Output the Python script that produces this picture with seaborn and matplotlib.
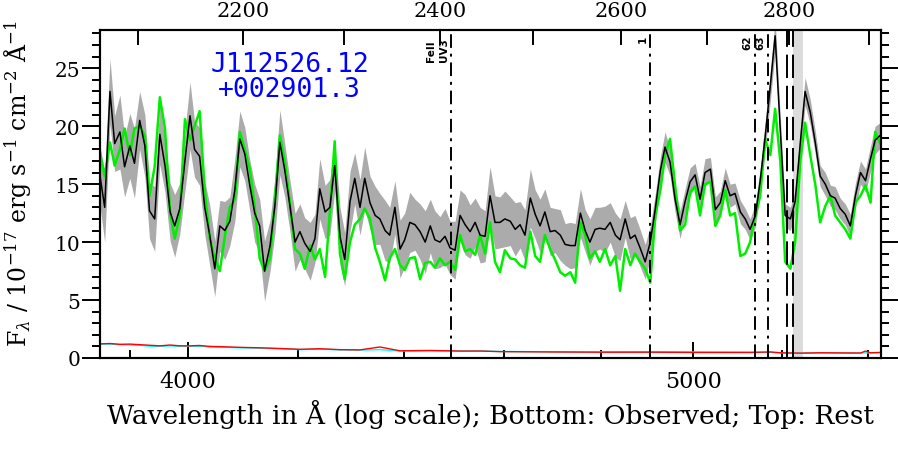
import numpy as np
import pandas as pd
import matplotlib
matplotlib.use("Agg")
import matplotlib.pyplot as plt
import seaborn as sns
from matplotlib.ticker import FixedLocator, FixedFormatter, NullFormatter, NullLocator

# observed wavelength grid (A)
wave = [3848, 3856, 3865, 3873, 3882, 3890, 3899, 3907, 3916, 3925,
        3933, 3942, 3951, 3960, 3969, 3977, 3986, 3995, 4004, 4012,
        4021, 4030, 4039, 4048, 4057, 4066, 4075, 4084, 4093, 4102,
        4111, 4120, 4129, 4138, 4148, 4157, 4166, 4175, 4184, 4194,
        4203, 4212, 4222, 4231, 4240, 4250, 4259, 4268, 4278, 4287,
        4297, 4306, 4316, 4325, 4335, 4345, 4354, 4364, 4373, 4383,
        4393, 4402, 4412, 4422, 4432, 4442, 4452, 4461, 4471, 4481,
        4491, 4501, 4511, 4521, 4531, 4541, 4551, 4561, 4571, 4581,
        4591, 4601, 4612, 4622, 4632, 4642, 4653, 4663, 4673, 4683,
        4694, 4704, 4715, 4725, 4736, 4746, 4757, 4767, 4777, 4788,
        4798, 4809, 4820, 4831, 4841, 4852, 4863, 4873, 4884, 4895,
        4906, 4917, 4928, 4938, 4949, 4960, 4971, 4982, 4993, 5004,
        5015, 5026, 5038, 5049, 5060, 5071, 5082, 5093, 5105, 5116,
        5127, 5139, 5150, 5161, 5173, 5184, 5196, 5207, 5219, 5230,
        5242, 5253, 5265, 5277, 5288, 5300, 5312, 5323, 5335, 5347,
        5359, 5371, 5383, 5395, 5407, 5418, 5430]

# main spectrum (black)
flux = [15.7, 13.0, 23.0, 18.5, 19.5, 16.5, 18.3, 16.8, 20.5, 18.3,
        12.7, 12.0, 19.3, 16.6, 12.6, 11.4, 12.9, 17.0, 20.9, 18.0,
        17.4, 13.0, 10.6, 7.7, 11.4, 11.0, 11.8, 14.5, 18.9, 17.6,
        14.9, 12.5, 11.4, 7.5, 9.7, 13.2, 18.6, 16.2, 13.3, 10.0,
        10.9, 9.9, 9.2, 10.3, 14.6, 12.6, 13.0, 16.6, 10.5, 8.5,
        13.5, 15.5, 13.0, 15.5, 13.4, 12.3, 12.0, 11.0, 10.6, 13.0,
        9.4, 10.2, 11.7, 11.5, 10.9, 10.0, 11.4, 10.2, 10.0, 10.5,
        9.5, 9.3, 12.3, 11.5, 10.9, 11.7, 10.6, 10.5, 14.0, 11.7,
        11.7, 12.0, 11.8, 11.1, 11.5, 10.6, 13.8, 12.4, 11.4, 12.6,
        10.9, 11.0, 10.6, 9.8, 9.7, 9.7, 12.5, 11.0, 10.0, 11.1,
        11.2, 11.1, 11.7, 10.6, 10.2, 12.0, 10.3, 10.6, 9.5, 8.3,
        10.0, 12.9, 16.2, 18.2, 16.9, 13.7, 11.5, 13.5, 15.2, 15.8,
        13.7, 16.0, 16.3, 12.8, 13.4, 15.3, 14.0, 14.2, 12.6, 12.0,
        11.1, 12.3, 15.3, 19.0, 23.5, 27.8, 19.5, 12.3, 12.0, 13.5,
        18.6, 23.0, 21.2, 18.5, 15.7, 15.0, 14.0, 13.8, 12.9, 12.4,
        11.4, 14.0, 16.0, 15.3, 17.2, 18.8, 19.2]

# grey band half width
flux_err = [2.6, 3.0, 2.8, 2.4, 3.2, 2.6, 2.8, 3.0, 2.5, 2.7,
            2.4, 2.8, 2.6, 2.3, 2.5, 2.7, 2.2, 2.6, 2.9, 2.4,
            2.5, 2.3, 2.6, 2.4, 2.2, 2.5, 2.1, 2.7, 2.4, 2.3,
            2.2, 2.5, 2.3, 2.6, 2.2, 2.4, 2.8, 2.3, 2.2, 2.5,
            2.4, 2.2, 2.5, 2.1, 2.6, 2.3, 2.4, 2.2, 2.5, 2.3,
            2.6, 2.2, 2.4, 2.7, 2.3, 2.5, 2.2, 2.6, 2.4, 2.3,
            2.5, 2.3, 2.6, 2.2, 2.4, 2.7, 2.3, 2.5, 2.2, 2.4,
            2.3, 2.5, 2.2, 2.6, 2.3, 2.1, 2.4, 2.2, 2.5, 2.3,
            2.2, 2.4, 2.1, 2.3, 2.0, 2.2, 2.5, 2.1, 2.3, 2.0,
            2.1, 1.9, 2.2, 1.8, 2.0, 1.9, 2.1, 1.8, 2.0, 1.9,
            1.8, 2.0, 1.7, 1.9, 1.8, 1.6, 1.8, 1.7, 1.6, 1.5,
            1.4, 1.3, 1.2, 1.3, 1.2, 1.1, 1.2, 1.1, 1.2, 1.0,
            1.1, 1.2, 1.0, 1.1, 1.0, 1.1, 1.0, 0.9, 1.0, 0.9,
            0.9, 1.0, 1.1, 1.2, 1.3, 1.4, 1.2, 1.0, 1.0, 1.0,
            1.1, 1.2, 1.1, 1.0, 0.9, 1.0, 0.9, 1.0, 0.9, 0.9,
            1.0, 1.1, 1.0, 1.0, 1.1, 1.2, 1.1]

# second spectrum (green)
flux_alt = [17.7, 15.7, 18.6, 16.6, 18.0, 19.8, 17.5, 19.8, 20.0, 19.2,
            14.0, 16.5, 22.5, 19.8, 12.5, 10.3, 12.3, 20.6, 18.8, 20.0,
            21.3, 14.5, 10.3, 8.6, 7.5, 10.5, 13.0, 13.7, 19.5, 18.0,
            16.3, 13.0, 8.6, 7.5, 8.6, 13.7, 19.2, 17.0, 13.5, 9.4,
            9.0, 7.7, 9.7, 8.5, 9.4, 7.0, 12.6, 18.7, 9.0, 6.8,
            10.0, 11.5, 12.0, 12.9, 12.0, 9.5, 8.3, 6.7, 8.6, 9.4,
            8.0, 7.6, 8.6, 8.7, 6.8, 8.2, 8.3, 7.8, 8.6, 8.0,
            8.3, 7.6, 10.6, 9.2, 9.4, 8.9, 10.6, 9.0, 11.7, 8.3,
            7.4, 9.3, 8.6, 8.5, 8.0, 7.8, 10.9, 8.8, 8.3, 10.6,
            9.4, 8.5, 7.4, 7.1, 7.4, 6.5, 11.7, 10.6, 8.6, 9.2,
            8.3, 9.4, 8.0, 8.8, 5.8, 9.4, 8.0, 9.0, 8.3, 7.7,
            6.5, 12.3, 14.5, 17.5, 18.9, 14.9, 11.0, 11.5, 14.3, 14.8,
            12.3, 15.0, 15.2, 11.4, 12.3, 14.5, 12.3, 12.5, 8.8, 9.0,
            10.0, 12.3, 14.0, 18.9, 17.5, 21.5, 16.9, 8.3, 7.7, 10.0,
            17.0, 20.3, 17.5, 14.9, 11.7, 13.1, 14.0, 12.3, 11.7, 11.1,
            10.3, 13.4, 14.0, 14.9, 13.4, 19.5, 18.5]

# error spectra near zero
noise_wave = [3848, 3865, 3882, 3899, 3916, 3933, 3951, 3969, 3986, 4004,
              4021, 4039, 4057, 4093, 4129, 4166, 4203, 4240, 4278, 4316,
              4354, 4393, 4452, 4511, 4551, 4591, 4694, 4798, 4906, 5015,
              5127, 5173, 5196, 5242, 5288, 5383, 5395, 5407, 5430]
noise_red = [1.22, 1.25, 1.18, 1.20, 1.15, 1.10, 1.05, 1.12, 1.05, 1.05,
             1.08, 1.00, 0.98, 0.92, 0.88, 0.82, 0.75, 0.80, 0.72, 0.70,
             0.95, 0.62, 0.65, 0.60, 0.60, 0.55, 0.52, 0.50, 0.50, 0.48,
             0.48, 0.52, 0.45, 0.42, 0.45, 0.43, 0.60, 0.45, 0.48]
noise_cyan = [1.18, 1.20, 1.15, 1.12, 1.10, 1.02, 1.00, 1.05, 1.00, 1.00,
              1.02, 0.95, 0.93, 0.88, 0.85, 0.80, 0.72, 0.76, 0.70, 0.68,
              0.72, 0.60, 0.62, 0.60, 0.62, 0.56, 0.54, 0.53, 0.55, 0.52,
              0.50, 0.50, 0.44, 0.42, 0.44, 0.42, 0.45, 0.44, 0.46]

# absorption line markers (observed A)
dashdot_waves = [4493, 4906, 5139, 5168]
mg_waves = [5212, 5224]
mask_band = [5226, 5249]
redshift = 0.863
obj_name = "J112526.12\n+002901.3"

xmin, xmax = 3848, 5432

sns.set_style("ticks")
plt.rcParams["font.family"] = ["DejaVu Serif"]
plt.rcParams["mathtext.fontset"] = "dejavuserif"
for k in ["text.color", "axes.labelcolor", "xtick.color", "ytick.color", "axes.edgecolor"]:
    plt.rcParams[k] = "black"

df = pd.DataFrame({"wave": wave, "flux": flux, "alt": flux_alt})
dn = pd.DataFrame({"wave": noise_wave, "red": noise_red, "cyan": noise_cyan})

fig = plt.figure(figsize=(8.98, 4.6), dpi=100)
ax = fig.add_axes([100 / 898, 1 - 359 / 460, 781 / 898, 328 / 460])

ax.axvspan(mask_band[0], mask_band[1], color="#dcdcdc", lw=0, zorder=0)
lo = np.array(flux) - np.array(flux_err)
hi = np.array(flux) + np.array(flux_err)
ax.fill_between(wave, lo, hi, color="#ababab", lw=0, zorder=1)
sns.lineplot(data=df, x="wave", y="alt", color="#00ee00", lw=1.8, ax=ax,
             estimator=None, sort=False, zorder=2)
sns.lineplot(data=df, x="wave", y="flux", color="black", lw=1.1, ax=ax,
             estimator=None, sort=False, zorder=3)
sns.lineplot(data=dn, x="wave", y="cyan", color="cyan", lw=1.0, ax=ax,
             estimator=None, sort=False, zorder=2)
sns.lineplot(data=dn, x="wave", y="red", color="red", lw=1.0, ax=ax,
             estimator=None, sort=False, zorder=3)

for w in dashdot_waves:
    ax.axvline(w, color="black", lw=1.4, ls=(0, (7, 3, 1.5, 3)), zorder=4)
for w in mg_waves:
    ax.axvline(w, color="black", lw=1.4, ls=(0, (12, 4)), zorder=4)

# line labels
trans = ax.get_xaxis_transform()
lab_kw = dict(rotation=90, fontsize=7.5, fontweight="bold", family="DejaVu Sans", transform=trans)
ax.text(4463, 0.905, "FeII", ha="right", va="bottom", **lab_kw)
ax.text(4489, 0.905, "UV3", ha="right", va="bottom", **lab_kw)
ax.text(4901, 0.985, "1", ha="right", va="top", **lab_kw)
ax.text(5132, 0.985, "62", ha="right", va="top", **lab_kw)
ax.text(5161, 0.985, "63", ha="right", va="top", **lab_kw)

ax.text(0.243, 0.857, obj_name, transform=ax.transAxes, ha="center", va="center",
        color="blue", fontsize=19, family="DejaVu Sans Mono", linespacing=0.95)

ax.set_xscale("log")
ax.set_xlim(xmin, xmax)
ax.set_ylim(0, 28.3)
ax.xaxis.set_major_locator(FixedLocator([4000, 5000]))
ax.xaxis.set_major_formatter(FixedFormatter(["4000", "5000"]))
ax.xaxis.set_minor_locator(FixedLocator([3900, 4200, 4400, 4600, 4800, 5200, 5400]))
ax.xaxis.set_minor_formatter(NullFormatter())
ax.yaxis.set_major_locator(FixedLocator([0, 5, 10, 15, 20, 25]))
ax.yaxis.set_minor_locator(FixedLocator(list(range(0, 29))))

ax.tick_params(axis="x", which="major", direction="in", length=11.5, width=1.4, pad=9, labelsize=16)
ax.tick_params(axis="x", which="minor", direction="in", length=6, width=1.4)
ax.tick_params(axis="y", which="major", direction="out", length=13, width=1.4, pad=1,
               labelsize=14.5, left=True, right=True)
ax.tick_params(axis="y", which="minor", direction="out", length=6, width=1.4, left=True, right=True)

for s in ax.spines.values():
    s.set_linewidth(1.5)

ax.set_xlabel("Wavelength in Å (log scale); Bottom: Observed; Top: Rest", fontsize=19, labelpad=5)
ax.set_ylabel(r"F$_\lambda$ / 10$^{-17}$ erg s$^{-1}$ cm$^{-2}$ Å$^{-1}$", fontsize=17)
ax.yaxis.set_label_coords(-0.085, 0.535)

# rest frame axis on top
ax2 = ax.twiny()
ax2.set_xscale("log")
ax2.set_xlim(xmin / (1 + redshift), xmax / (1 + redshift))
rest_ticks = [2100, 2200, 2300, 2400, 2500, 2600, 2700, 2800, 2900]
rest_labels = ["", "2200", "", "2400", "", "2600", "", "2800", ""]
ax2.xaxis.set_major_locator(FixedLocator(rest_ticks))
ax2.xaxis.set_major_formatter(FixedFormatter(rest_labels))
ax2.xaxis.set_minor_locator(NullLocator())
ax2.tick_params(axis="x", which="major", direction="in", length=11, width=1.4, pad=7, labelsize=15)
for s in ax2.spines.values():
    s.set_linewidth(1.5)

fig.savefig("out.png", dpi=100)
